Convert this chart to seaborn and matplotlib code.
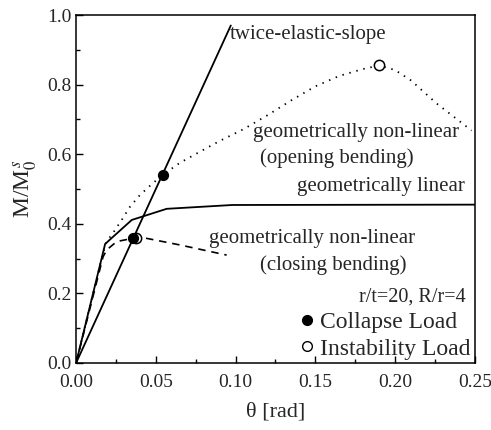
import matplotlib
matplotlib.use("Agg")
import matplotlib.pyplot as plt
import seaborn as sns
from matplotlib.lines import Line2D

# ---- data ----
theta_twice = [0.0, 0.097]
m_twice = [0.0, 0.97]

theta_lin = [0.0, 0.0182, 0.0349, 0.0568, 0.098, 0.25]
m_lin = [0.0, 0.342, 0.411, 0.443, 0.454, 0.455]

theta_open = [0.0, 0.0169, 0.0192, 0.0232, 0.0286, 0.0338, 0.0401, 0.0482, 0.0545,
              0.065, 0.078, 0.090, 0.105, 0.120, 0.135, 0.150, 0.165, 0.180, 0.190,
              0.200, 0.210, 0.226, 0.248]
m_open = [0.0, 0.316, 0.349, 0.374, 0.411, 0.449, 0.483, 0.517, 0.541,
          0.575, 0.608, 0.638, 0.672, 0.712, 0.755, 0.795, 0.825, 0.845, 0.855,
          0.842, 0.812, 0.746, 0.668]

theta_close = [0.0, 0.0169, 0.0192, 0.0255, 0.0376, 0.0443, 0.0652, 0.0944]
m_close = [0.0, 0.305, 0.325, 0.349, 0.360, 0.358, 0.339, 0.310]

theta_collapse = [0.0355, 0.0547]
m_collapse = [0.360, 0.541]
theta_instab = [0.0376, 0.190]
m_instab = [0.360, 0.855]

x_ticks = [0.00, 0.05, 0.10, 0.15, 0.20, 0.25]
y_ticks = [0.0, 0.2, 0.4, 0.6, 0.8, 1.0]

sns.set_style("ticks")
plt.rcParams["font.family"] = ["Liberation Serif", "DejaVu Serif"]
plt.rcParams["mathtext.fontset"] = "stix"

fig = plt.figure(figsize=(4.91, 4.30), dpi=100)
ax = fig.add_axes([0.155, 0.156, 0.812, 0.809])

lw = 1.3
sns.lineplot(x=theta_twice, y=m_twice, ax=ax, color="black", lw=lw, sort=False)
sns.lineplot(x=theta_lin, y=m_lin, ax=ax, color="black", lw=lw, sort=False)
sns.lineplot(x=theta_open, y=m_open, ax=ax, color="black", lw=1.3, sort=False,
             linestyle=(0, (0.8, 3.2)))
sns.lineplot(x=theta_close, y=m_close, ax=ax, color="black", lw=1.2, sort=False,
             linestyle=(0, (4.5, 3.5)))

ax.scatter(theta_instab, m_instab, s=55, facecolor="white", edgecolor="black",
           linewidth=1.1, zorder=5)
ax.scatter(theta_collapse, m_collapse, s=50, facecolor="black", edgecolor="black",
           zorder=6)

ax.set_xlim(0, 0.25)
ax.set_ylim(0, 1.0)
ax.set_xticks(x_ticks)
ax.set_xticklabels([f"{v:.2f}" for v in x_ticks])
ax.set_yticks(y_ticks)
ax.set_yticklabels([f"{v:.1f}" for v in y_ticks])
ax.set_xticks([0.025, 0.075, 0.125, 0.175, 0.225], minor=True)
ax.set_yticks([0.1, 0.3, 0.5, 0.7, 0.9], minor=True)
ax.tick_params(which="both", direction="in", color="black", width=1.0)
ax.tick_params(which="major", length=5, labelsize=14)
ax.tick_params(axis="x", which="major", pad=8)
ax.tick_params(axis="y", which="major", pad=3)
ax.tick_params(which="minor", length=3)
for s in ax.spines.values():
    s.set_visible(True)
    s.set_color("black")
    s.set_linewidth(1.1)

ax.set_xlabel("θ [rad]", fontsize=16, labelpad=8)
ax.set_ylabel(r"M/M$_0^{\,s}$", fontsize=17, labelpad=6)

fs = 15
ax.text(0.0965, 0.943, "twice-elastic-slope", fontsize=fs, ha="left", va="center")
ax.text(0.1754, 0.661, "geometrically non-linear", fontsize=fs, ha="center", va="center")
ax.text(0.1635, 0.589, "(opening bending)", fontsize=fs, ha="center", va="center")
ax.text(0.191, 0.506, "geometrically linear", fontsize=fs, ha="center", va="center")
ax.text(0.148, 0.359, "geometrically non-linear", fontsize=fs, ha="center", va="center")
ax.text(0.161, 0.282, "(closing bending)", fontsize=fs, ha="center", va="center")
ax.text(0.2107, 0.19, "r/t=20, R/r=4", fontsize=14.5, ha="center", va="center")

handles = [
    Line2D([], [], marker="o", ls="none", markersize=7, markerfacecolor="black",
           markeredgecolor="black"),
    Line2D([], [], marker="o", ls="none", markersize=7, markerfacecolor="white",
           markeredgecolor="black", markeredgewidth=1.0),
]
ax.legend(handles, ["Collapse Load", "Instability Load"], loc="upper left",
          bbox_to_anchor=(0.564, 0.148), frameon=False, fontsize=17,
          handlelength=0.5, handletextpad=0.3, labelspacing=0.22,
          borderpad=0, borderaxespad=0)

fig.savefig("out.png", dpi=100)
